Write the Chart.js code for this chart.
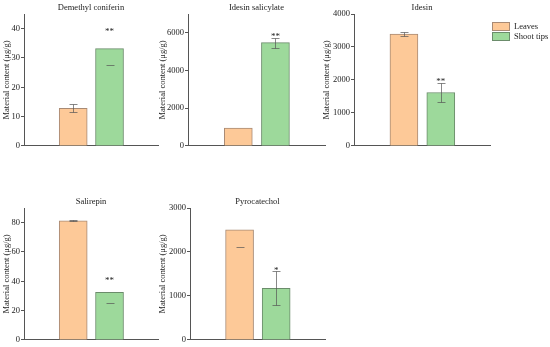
<!DOCTYPE html>
<html>
<head>
<meta charset="utf-8">
<script src="https://cdn.jsdelivr.net/npm/chart.js@4.4.0/dist/chart.umd.min.js"></script>
<style>
    body { margin: 0; background: #fff; }
    #wrap { position: relative; width: 550px; height: 347px; }
    #wrap canvas { position: absolute; }
</style>
</head>
<body>
<div id="wrap"></div>
<script>
// data
const categories = ["Leaves", "Shoot tips"];
const titles = ["Demethyl coniferin", "Idesin salicylate", "Idesin", "Salirepin", "Pyrocatechol"];
const leaves = [12.8, 950, 3390, 81.3, 2505];
const shootTips = [33.2, 5480, 1620, 32.5, 1175];
const leavesErr = [1.4, 0, 60, 0.5, 400];
const shootErr = [5.6, 270, 300, 7.5, 390];
// which whiskers are visible in the original ("both", "low", "none")
const leavesErrShown = ["both", "none", "both", "both", "low"];
const shootErrShown = ["low", "both", "both", "low", "both"];
const stars = ["**", "**", "**", "**", "*"];
const yMax = [45, 7000, 4000, 90, 3000];
const yStep = [10, 2000, 1000, 20, 1000];

const fillColors = ["#fdc998", "#9dd99b"];
const edgeColors = ["#a88a74", "#6b8c6b"];
const axisColor = "#555";
const textColor = "#222";
const FONT = "'Liberation Serif', 'Times New Roman', serif";

// canvas placement for each panel (canvases overlap a little, they are transparent)
const panels = [
    { left: 0,   top: 0,   w: 165, h: 152, axisW: 24, padRight: 7 },
    { left: 156, top: 0,   w: 174, h: 152, axisW: 32, padRight: 5 },
    { left: 320, top: 0,   w: 230, h: 152, axisW: 34, padRight: 60, legend: true },
    { left: 0,   top: 194, w: 165, h: 152, axisW: 24, padRight: 7 },
    { left: 156, top: 194, w: 174, h: 152, axisW: 34, padRight: 5 }
];

const panelDecor = {
    id: "panelDecor",
    afterDatasetsDraw(chart, args, opts) {
        const i = opts.idx;
        const ctx = chart.ctx;
        const y = chart.scales.y;
        const area = chart.chartArea;
        const vals = [leaves[i], shootTips[i]];
        const errs = [leavesErr[i], shootErr[i]];
        const shown = [leavesErrShown[i], shootErrShown[i]];

        ctx.save();
        ctx.strokeStyle = "rgba(85,85,85,0.7)";
        ctx.lineWidth = 1;
        vals.forEach((v, d) => {
            if (shown[d] === "none") return;
            const bar = chart.getDatasetMeta(d).data[0];
            const x = Math.round(bar.x) + 0.5;
            const yl = Math.round(y.getPixelForValue(v - errs[d])) + 0.5;
            const yh = Math.round(y.getPixelForValue(v + errs[d])) + 0.5;
            ctx.beginPath();
            ctx.moveTo(x - 4, yl); ctx.lineTo(x + 4, yl);
            if (shown[d] === "both") {
                ctx.moveTo(x, yl); ctx.lineTo(x, yh);
                ctx.moveTo(x - 4, yh); ctx.lineTo(x + 4, yh);
            }
            ctx.stroke();
        });

        // significance marks over the shoot tips bar
        const sb = chart.getDatasetMeta(1).data[0];
        const sy = y.getPixelForValue(shootTips[i] + shootErr[i]);
        ctx.fillStyle = textColor;
        ctx.font = "9px " + FONT;
        ctx.textAlign = "center";
        ctx.textBaseline = "alphabetic";
        ctx.fillText(stars[i], sb.x, sy + 1.5);

        // panel title
        ctx.font = "8.5px " + FONT;
        ctx.textBaseline = "middle";
        ctx.fillText(titles[i], (area.left + area.right) / 2, area.top - 6);

        if (opts.legend) {
            const lx = area.right + 2;
            let ly = area.top + 8;
            ctx.textAlign = "left";
            chart.data.datasets.forEach(ds => {
                ctx.fillStyle = ds.backgroundColor;
                ctx.fillRect(lx, ly, 18, 9);
                ctx.strokeStyle = ds.borderColor;
                ctx.strokeRect(lx + 0.5, ly + 0.5, 17, 8);
                ctx.fillStyle = textColor;
                ctx.fillText(ds.label, lx + 22, ly + 5);
                ly += 10;
            });
        }
        ctx.restore();
    }
};

const wrap = document.getElementById("wrap");

panels.forEach((p, i) => {
    const canvas = document.createElement("canvas");
    canvas.width = p.w;
    canvas.height = p.h;
    canvas.style.left = p.left + "px";
    canvas.style.top = p.top + "px";
    wrap.appendChild(canvas);

    const values = [leaves[i], shootTips[i]];
    new Chart(canvas.getContext("2d"), {
        type: "bar",
        data: {
            datasets: categories.map((c, d) => ({
                label: c,
                data: [{ x: d, y: values[d] }],
                backgroundColor: fillColors[d],
                borderColor: edgeColors[d],
                borderWidth: 1,
                barThickness: 28,
                grouped: false
            }))
        },
        options: {
            responsive: false,
            animation: false,
            layout: { padding: { top: 14, right: p.padRight, left: 0, bottom: 0 } },
            plugins: {
                legend: { display: false },
                tooltip: { enabled: false },
                panelDecor: { idx: i, legend: !!p.legend }
            },
            scales: {
                x: {
                    type: "linear",
                    min: -0.74,
                    max: 1.72,
                    ticks: { display: false },
                    grid: { display: false },
                    border: { display: true, color: axisColor },
                    afterFit: s => { s.height = 5; }
                },
                y: {
                    min: 0,
                    max: yMax[i],
                    ticks: {
                        color: textColor,
                        padding: 1,
                        autoSkip: false,
                        font: { family: FONT, size: 8.5 },
                        callback: v => String(v)
                    },
                    afterBuildTicks: s => {
                        const t = [];
                        for (let v = 0; v <= yMax[i]; v += yStep[i]) t.push({ value: v });
                        s.ticks = t;
                    },
                    grid: { drawOnChartArea: false, drawTicks: true, tickLength: 3, color: axisColor },
                    border: { display: true, color: axisColor },
                    title: {
                        display: true,
                        text: "Material content (μg/g)",
                        color: textColor,
                        font: { family: FONT, size: 8.5 },
                        padding: { top: 2, bottom: 0 }
                    },
                    afterFit: s => { s.width = p.axisW; }
                }
            }
        },
        plugins: [panelDecor]
    });
});
</script>
</body>
</html>
